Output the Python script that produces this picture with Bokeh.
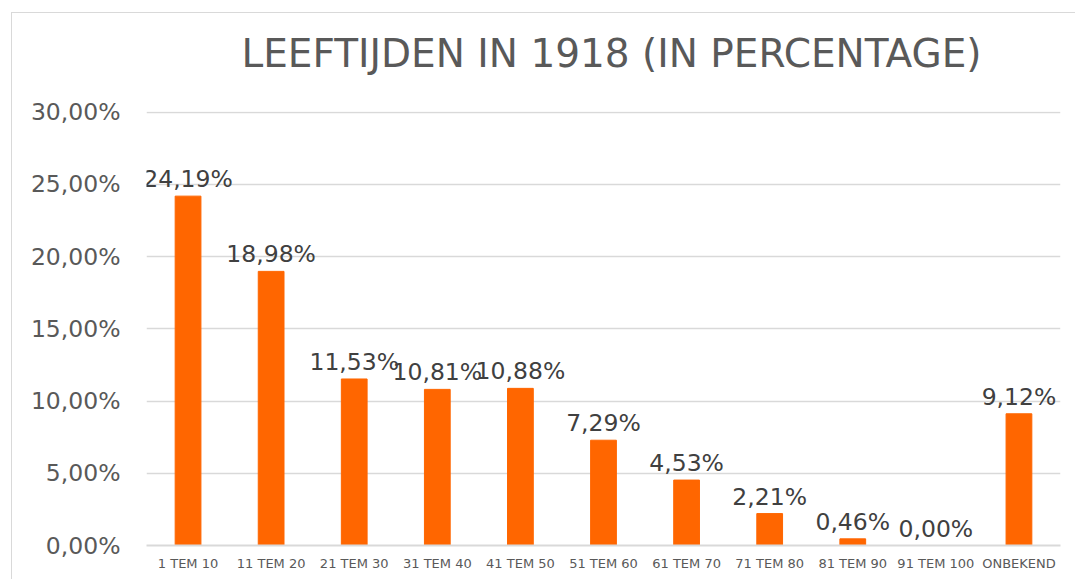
from bokeh.plotting import figure
from bokeh.models import FactorRange, Range1d, FixedTicker, ColumnDataSource, Title
from bokeh.core.properties import value
from bokeh.embed import file_html
from bokeh.resources import INLINE

categories = ["1 TEM 10", "11 TEM 20", "21 TEM 30", "31 TEM 40", "41 TEM 50",
              "51 TEM 60", "61 TEM 70", "71 TEM 80", "81 TEM 90", "91 TEM 100", "ONBEKEND"]
percentages = [24.19, 18.98, 11.53, 10.81, 10.88, 7.29, 4.53, 2.21, 0.46, 0.00, 9.12]
y_ticks = [0, 5, 10, 15, 20, 25, 30]
y_tick_labels = ["0,00%", "5,00%", "10,00%", "15,00%", "20,00%", "25,00%", "30,00%"]
title_text = "LEEFTIJDEN IN 1918 (IN PERCENTAGE)"

FONT = "DejaVu Sans"
labels = [f"{v:.2f}".replace(".", ",") + "%" for v in percentages]
src = ColumnDataSource(dict(cat=categories, val=percentages, lab=labels))

p = figure(x_range=FactorRange(*categories, range_padding=0), y_range=Range1d(0, 30.05),
           width=1064, height=567, output_backend="svg", toolbar_location=None,
           title=None,
           min_border_left=134, min_border_right=16, min_border_top=98, min_border_bottom=35)
p.styles = {"margin-left": "11px", "margin-top": "12px",
            "border-left": "1px solid #d9d9d9", "border-top": "1px solid #d9d9d9"}

# spacer panel between the frame and the title (closest to the frame)
spacer = Title(text=" ", text_font_size="1px", standoff=15, text_color="white")
p.add_layout(spacer, "above")

main_title = Title(text=title_text, text_font=FONT, text_font_size="39px",
                   text_font_style="normal", text_color="#595959",
                   align="left", offset=95, vertical_align="top", standoff=32)
p.add_layout(main_title, "above")

p.outline_line_color = None
p.background_fill_color = "white"
p.border_fill_color = "white"

p.vbar(x="cat", top="val", width=0.31, source=src, color="#FF6600")
p.text(x="cat", y="val", text="lab", source=src, text_align="center",
       text_baseline="alphabetic", y_offset=-17, text_font=value(FONT),
       text_font_size="23.5px", text_color="#404040")

p.yaxis.ticker = FixedTicker(ticks=y_ticks)
p.yaxis.major_label_overrides = {t: l for t, l in zip(y_ticks, y_tick_labels)}
p.yaxis.axis_line_color = None
p.yaxis.major_tick_line_color = None
p.yaxis.minor_tick_line_color = None
p.yaxis.major_label_standoff = 20
p.yaxis.major_label_text_font = FONT
p.yaxis.major_label_text_font_size = "23.5px"
p.yaxis.major_label_text_color = "#595959"

p.xaxis.axis_line_color = "#d9d9d9"
p.xaxis.axis_line_width = 2
p.xaxis.major_tick_line_color = None
p.xaxis.minor_tick_line_color = None
p.xaxis.major_label_standoff = 4
p.xaxis.major_label_text_font = FONT
p.xaxis.major_label_text_font_size = "13px"
p.xaxis.major_label_text_color = "#595959"

p.xgrid.grid_line_color = None
p.ygrid.grid_line_color = "#d9d9d9"
p.ygrid.grid_line_width = 1.5

open("out.html", "w").write(file_html(p, INLINE))
